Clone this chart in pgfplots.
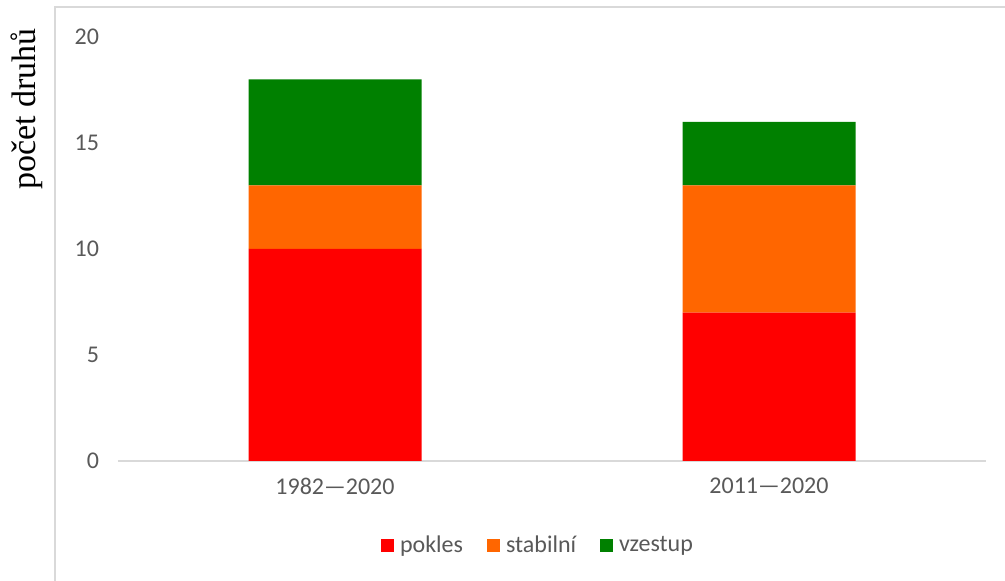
\documentclass[border=0pt]{standalone}
\usepackage{fontspec}
\setmainfont{Carlito}
\newfontfamily\seriffont{Liberation Serif}
\usepackage{pgfplots}
\pgfplotsset{compat=1.18}
\definecolor{cpokles}{HTML}{FF0000}
\definecolor{cstab}{HTML}{FF6600}
\definecolor{cvzes}{HTML}{008000}
\definecolor{axgray}{HTML}{D9D9D9}
\definecolor{txtgray}{HTML}{595959}
\begin{document}
\begin{tikzpicture}
\useasboundingbox (0,0) rectangle (502.5pt,290.5pt);
\fill[white] (0,0) rectangle (502.5pt,290.5pt);
\draw[axgray, line width=0.9pt] (27.5pt,-2pt) -- (27.5pt,287pt) -- (505pt,287pt);
\node[rotate=90, font=\seriffont\fontsize{17}{19}\selectfont, text=black] at (13.5pt,236pt) {počet druhů};
\begin{axis}[
  at={(59pt,60pt)}, anchor=south west,
  scale only axis,
  width=434pt, height=212pt,
  ybar stacked,
  bar width=86.5pt,
  xmin=-0.5, xmax=1.5,
  ymin=0, ymax=20,
  xtick={0,1},
  xticklabels={1982—2020,2011—2020},
  ytick={0,5,10,15,20},
  major tick length=0,
  axis x line*=bottom,
  axis y line*=left,
  x axis line style={axgray, line width=0.9pt, -},
  y axis line style={draw=none},
  ticklabel style={font=\fontsize{12}{14}\selectfont, text=txtgray},
  /pgf/number format/assume math mode=true,
  yticklabel style={xshift=-6pt},
  xticklabel style={yshift=-5pt},
  legend style={draw=none, fill=none, at={(0.485,-0.2)}, anchor=center,
    legend columns=3, font=\fontsize{12}{14}\selectfont, text=txtgray,
    /tikz/every even column/.append style={column sep=10pt},
    /tikz/every odd column/.append style={column sep=1pt},
    legend cell align=left},
  legend image code/.code={\fill[#1] (0pt,-3.25pt) rectangle (6.5pt,3.25pt);},
]
\addplot[fill=cpokles, draw=none] coordinates {(0,10) (1,7)};
\addplot[fill=cstab, draw=none] coordinates {(0,3) (1,6)};
\addplot[fill=cvzes, draw=none] coordinates {(0,5) (1,3)};
\legend{pokles,stabilní,vzestup}
\end{axis}
\end{tikzpicture}
\end{document}
